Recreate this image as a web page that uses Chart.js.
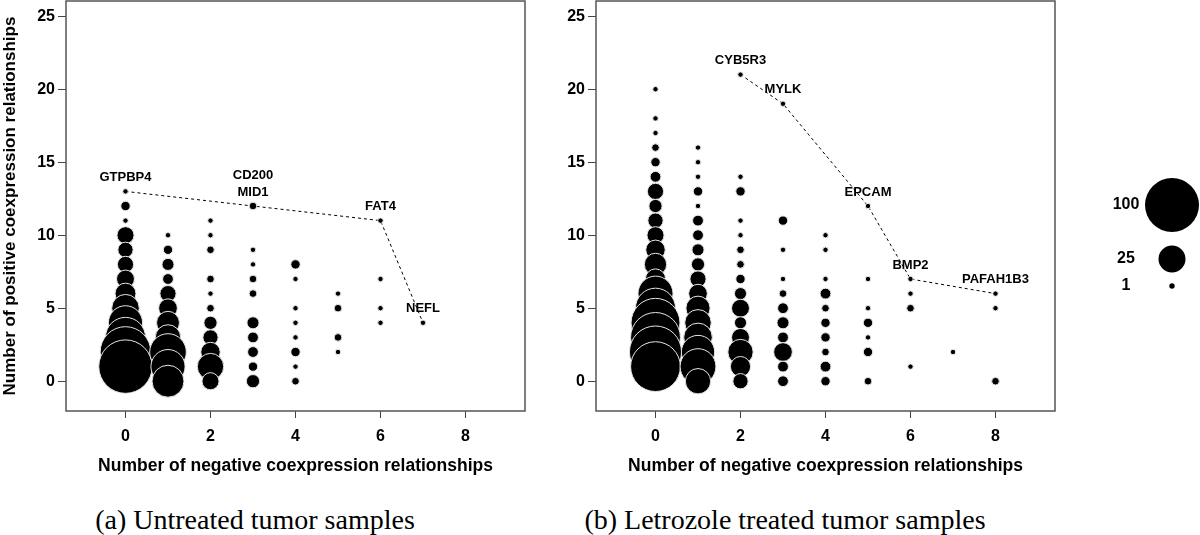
<!DOCTYPE html>
<html><head><meta charset="utf-8">
<script src="https://cdn.jsdelivr.net/npm/chart.js@4.4.1/dist/chart.umd.min.js"></script>
<style>
html,body{margin:0;padding:0;background:#fff;width:1200px;height:535px;overflow:hidden;}
#wrap{position:relative;width:1200px;height:535px;}
#c1{position:absolute;left:0;top:0;}
#c2{position:absolute;left:540px;top:0;}
.cap{position:absolute;top:506px;font-family:'Liberation Serif','Times New Roman',serif;font-size:28px;white-space:nowrap;transform:translateX(-50%);line-height:1;color:#000;}
</style></head><body>
<div id="wrap">
<canvas id="c1" width="560" height="480" style="width:560px;height:480px"></canvas>
<canvas id="c2" width="660" height="480" style="width:660px;height:480px"></canvas>
<div class="cap" style="left:255px">(a) Untreated tumor samples</div>
<div class="cap" style="left:785px">(b) Letrozole treated tumor samples</div>
</div>
<script>
// ---- Data: (a) untreated ----
const untreatedNeg   = [0,0,0,0,0,0,0,0,0,0,0,0,0, 1,1,1,1,1,1,1,1,1,1,1, 2,2,2,2,2,2,2,2,2,2,2, 3,3,3,3,3,3,3,3,3,3, 4,4,4,4,4,4,4,4, 5,5,5,5, 6,6,6,6, 7];
const untreatedPos   = [13,12,11,10,9,8,7,6,5,4,3,2,1, 10,9,8,7,6,5,4,3,2,1,0, 11,10,9,7,6,5,4,3,2,1,0, 12,9,8,7,6,4,3,2,1,0, 8,7,5,4,3,2,1,0, 6,5,3,2, 11,7,5,4, 4];
const untreatedCount = [1,3,1,10,8,9,11,15,26,40,55,88,98, 1,3,5,4,9,12,18,22,46,40,35, 1,1,2,2,1,2,6,8,13,24,10, 2,1,1,2,2,5,4,4,3,6, 3,1,1,1,1,3,1,2, 1,2,2,1, 1,1,1,1, 1];
const untreatedGenes = ['GTPBP4','CD200','MID1','FAT4','NEFL'];
const untreatedGeneNeg = [0,3,3,6,7];
const untreatedGenePos = [13,12,12,11,4];

// ---- Data: (b) letrozole treated ----
const letrozoleNeg   = [0,0,0,0,0,0,0,0,0,0,0,0,0,0,0,0,0,0,0, 1,1,1,1,1,1,1,1,1,1,1,1,1,1,1,1,1, 2,2,2,2,2,2,2,2,2,2,2,2,2,2,2, 3,3,3,3,3,3,3,3,3,3,3, 4,4,4,4,4,4,4,4,4,4, 5,5,5,5,5,5,5, 6,6,6,6, 7, 8,8,8];
const letrozolePos   = [20,18,17,16,15,14,13,12,11,10,9,8,7,6,5,4,3,2,1, 16,15,14,13,12,11,10,9,8,7,6,5,4,3,2,1,0, 21,14,13,11,10,9,8,7,6,5,4,3,2,1,0, 19,11,9,7,6,5,4,3,2,1,0, 10,9,7,6,5,4,3,2,1,0, 12,7,5,4,3,2,0, 7,6,5,1, 2, 6,5,0];
const letrozoleCount = [1,1,1,2,3,4,9,6,8,10,13,17,14,42,55,82,85,93,85, 1,1,1,3,1,4,4,5,6,9,12,20,24,28,38,44,22, 1,1,3,1,1,2,2,3,5,11,5,11,22,14,8, 1,3,1,1,2,4,5,4,12,4,4, 1,1,1,4,2,3,3,2,4,3, 1,1,1,3,1,3,2, 1,1,2,1, 1, 1,1,2];
const letrozoleGenes = ['CYB5R3','MYLK','EPCAM','BMP2','PAFAH1B3'];
const letrozoleGeneNeg = [2,3,5,6,8];
const letrozoleGenePos = [21,19,12,7,6];

// ---- Axis ticks, titles, legend ----
const xTickValues = [0,2,4,6,8];
const yTickValues = [0,5,10,15,20,25];
const xTitle = 'Number of negative coexpression relationships';
const yTitle = 'Number of positive coexpression relationships';
const legendCounts = [100,25,1];

const SANS = "'Liberation Sans', Arial, Helvetica, sans-serif";
const radiusOf = n => 2.7*Math.sqrt(n);

const boxPlugin = {
  id:'box',
  afterDraw(chart){
    const a = chart.chartArea, c = chart.ctx;
    c.save(); c.strokeStyle='#555'; c.lineWidth=1.5;
    c.strokeRect(a.left, a.top, a.right-a.left, a.bottom-a.top);
    c.restore();
  }
};

function geneLabelPlugin(names, gx, gy){
  return {
    id:'genes',
    afterDatasetsDraw(chart){
      const c = chart.ctx, xs = chart.scales.x, ys = chart.scales.y;
      c.save();
      c.font = 'bold 13px ' + SANS; c.fillStyle='#000';
      c.textAlign='center'; c.textBaseline='middle';
      names.forEach((nm,i)=>{
        let k = 0;
        for (let j=i+1;j<names.length;j++) if (gx[j]===gx[i] && gy[j]===gy[i]) k++;
        const px = xs.getPixelForValue(gx[i]);
        const py = ys.getPixelForValue(gy[i]) - 14 - 16.5*k;
        c.fillText(nm, px, py);
      });
      c.restore();
    }
  };
}

const legendPlugin = {
  id:'sizeLegend',
  afterDraw(chart){
    const c = chart.ctx;
    const cx = 632, tx = 586, rows = [205, 259, 286];
    c.save();
    legendCounts.forEach((n,i)=>{
      c.beginPath(); c.arc(cx, rows[i], radiusOf(n), 0, Math.PI*2);
      c.fillStyle='#000'; c.fill();
      c.font='bold 16px '+SANS; c.textAlign='center'; c.textBaseline='middle';
      c.fillText(String(n), tx, rows[i]);
    });
    c.restore();
  }
};

function makeChart(id, neg, pos, cnt, genes, gneg, gpos, opt){
  const bubbles = neg.map((x,i)=>({x:x, y:pos[i], r:radiusOf(cnt[i])}));
  const path = gneg.map((x,i)=>({x:x, y:gpos[i]}));
  const tickFont = {family:SANS, size:16, weight:'bold'};
  const plugins = [boxPlugin, geneLabelPlugin(genes, gneg, gpos)];
  if (opt.legend) plugins.push(legendPlugin);
  return new Chart(document.getElementById(id), {
    type:'bubble',
    data:{datasets:[
      {type:'bubble', data:bubbles, backgroundColor:'#000', borderColor:'#e6e6e6', borderWidth:1, clip:false},
      {type:'line', data:path, borderColor:'#000', borderWidth:1, borderDash:[3,3], pointRadius:0, fill:false, tension:0}
    ]},
    options:{
      responsive:false, animation:false, events:[],
      layout:{autoPadding:false, padding:{left:0, top:1, right:opt.padRight, bottom:0}},
      plugins:{legend:{display:false}, tooltip:{enabled:false}},
      scales:{
        x:{type:'linear', min:-1.4, max:9.4,
          afterBuildTicks:s=>{s.ticks = xTickValues.map(v=>({value:v}));},
          afterFit:s=>{s.height = 69; s.paddingLeft = 0; s.paddingRight = 0;},
          grid:{display:true, drawOnChartArea:false, drawTicks:true, tickLength:7, color:'#444', lineWidth:1},
          border:{display:false},
          ticks:{font:tickFont, color:'#000', padding:9, maxRotation:0, autoSkip:false},
          title:{display:true, text:xTitle, color:'#000', font:{family:SANS, size:17.5, weight:'bold'}, padding:{top:0, bottom:3}}
        },
        y:{type:'linear', min:-2.04, max:26.04,
          afterBuildTicks:s=>{s.ticks = yTickValues.map(v=>({value:v}));},
          afterFit:s=>{s.width = opt.yWidth; s.paddingTop = 0; s.paddingBottom = 0;},
          grid:{display:true, drawOnChartArea:false, drawTicks:true, tickLength:8, color:'#444', lineWidth:1},
          border:{display:false},
          ticks:{font:tickFont, color:'#000', padding:3, autoSkip:false},
          title:{display:opt.yTitle, text:yTitle, color:'#000', font:{family:SANS, size:17, weight:'bold'}, padding:{top:0, bottom:0}}
        }
      }
    },
    plugins:plugins
  });
}

makeChart('c1', untreatedNeg, untreatedPos, untreatedCount, untreatedGenes, untreatedGeneNeg, untreatedGenePos, {padRight:35, yWidth:66, yTitle:true, legend:false});
makeChart('c2', letrozoleNeg, letrozolePos, letrozoleCount, letrozoleGenes, letrozoleGeneNeg, letrozoleGenePos, {padRight:145, yWidth:56, yTitle:false, legend:true});
</script>
</body></html>
